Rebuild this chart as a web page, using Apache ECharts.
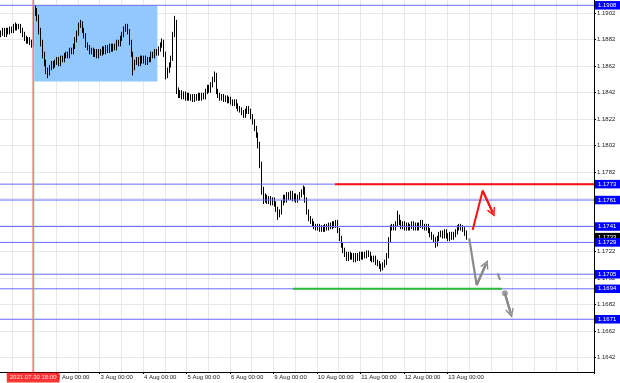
<!DOCTYPE html>
<html><head><meta charset="utf-8">
<script src="https://cdn.jsdelivr.net/npm/echarts@6/dist/echarts.min.js"></script>
<style>html,body{margin:0;padding:0;background:#fff}#c{width:620px;height:383px}</style>
</head><body><div id="c"></div>
<script>
// ---- data (EURUSD H1) ----
const nBars = 328;            // slots on the time axis (incl. empty right margin)
const firstOpen = 1.1886;
const closes = [
1.1887,1.1889,1.1886,1.1889,1.1888,1.1890,1.1889,1.1892,1.1891,1.1892,
1.1892,1.1889,1.1886,1.1883,1.1881,1.1882,1.1880,1.1878,1.1903,1.1905,
1.1899,1.1889,1.1880,1.1871,1.1865,1.1859,1.1858,1.1861,1.1864,1.1863,
1.1865,1.1867,1.1864,1.1868,1.1867,1.1870,1.1871,1.1870,1.1874,1.1873,
1.1877,1.1882,1.1887,1.1893,1.1895,1.1889,1.1885,1.1878,1.1876,1.1873,
1.1874,1.1871,1.1873,1.1870,1.1873,1.1872,1.1875,1.1873,1.1876,1.1874,
1.1877,1.1875,1.1877,1.1876,1.1880,1.1879,1.1883,1.1886,1.1890,1.1892,
1.1888,1.1880,1.1871,1.1861,1.1865,1.1867,1.1864,1.1868,1.1866,1.1868,
1.1865,1.1867,1.1867,1.1871,1.1870,1.1873,1.1872,1.1875,1.1878,1.1880,
1.1871,1.1855,1.1859,1.1863,1.1868,1.1886,1.1895,1.1844,1.1840,1.1842,
1.1839,1.1841,1.1838,1.1840,1.1838,1.1839,1.1837,1.1839,1.1838,1.1840,
1.1838,1.1840,1.1839,1.1843,1.1846,1.1844,1.1848,1.1852,1.1855,1.1843,
1.1840,1.1838,1.1839,1.1837,1.1838,1.1836,1.1837,1.1835,1.1834,1.1835,
1.1832,1.1830,1.1829,1.1827,1.1825,1.1828,1.1830,1.1828,1.1824,1.1820,
1.1815,1.1810,1.1803,1.1788,1.1769,1.1761,1.1763,1.1760,1.1762,1.1759,
1.1761,1.1758,1.1754,1.1750,1.1752,1.1759,1.1763,1.1761,1.1765,1.1763,
1.1766,1.1762,1.1764,1.1761,1.1763,1.1765,1.1767,1.1769,1.1761,1.1752,
1.1747,1.1745,1.1743,1.1741,1.1740,1.1741,1.1739,1.1740,1.1739,1.1741,
1.1740,1.1742,1.1741,1.1743,1.1742,1.1744,1.1738,1.1732,1.1727,1.1723,
1.1720,1.1717,1.1720,1.1718,1.1719,1.1716,1.1719,1.1717,1.1720,1.1718,
1.1720,1.1719,1.1721,1.1720,1.1717,1.1716,1.1717,1.1714,1.1713,1.1711,
1.1710,1.1712,1.1714,1.1719,1.1731,1.1740,1.1741,1.1740,1.1743,1.1748,
1.1744,1.1741,1.1743,1.1740,1.1742,1.1740,1.1741,1.1743,1.1740,1.1742,
1.1740,1.1742,1.1744,1.1741,1.1740,1.1741,1.1738,1.1735,1.1733,1.1731,
1.1728,1.1732,1.1735,1.1736,1.1734,1.1737,1.1734,1.1732,1.1735,1.1733,
1.1735,1.1737,1.1740,1.1741,1.1740,1.1739,1.1736,1.1733];
const highs = [
1.1889,1.1891,1.1891,1.1891,1.1891,1.1892,1.1892,1.1894,1.1895,1.1894,
1.1894,1.1894,1.1891,1.1888,1.1885,1.1884,1.1884,1.1882,1.1908,1.1908,
1.1906,1.1901,1.1891,1.1882,1.1873,1.1867,1.1861,1.1863,1.1866,1.1866,
1.1867,1.1869,1.1869,1.1870,1.1870,1.1872,1.1873,1.1873,1.1876,1.1876,
1.1879,1.1884,1.1889,1.1895,1.1897,1.1896,1.1891,1.1887,1.1880,1.1878,
1.1876,1.1876,1.1875,1.1875,1.1875,1.1875,1.1877,1.1877,1.1878,1.1878,
1.1879,1.1879,1.1879,1.1879,1.1882,1.1882,1.1885,1.1888,1.1892,1.1894,
1.1894,1.1890,1.1882,1.1873,1.1867,1.1869,1.1869,1.1870,1.1870,1.1870,
1.1870,1.1869,1.1869,1.1873,1.1873,1.1875,1.1875,1.1877,1.1880,1.1883,
1.1882,1.1873,1.1861,1.1865,1.1870,1.1888,1.1900,1.1897,1.1846,1.1844,
1.1844,1.1843,1.1843,1.1842,1.1842,1.1841,1.1841,1.1841,1.1841,1.1842,
1.1842,1.1842,1.1842,1.1845,1.1848,1.1848,1.1850,1.1854,1.1858,1.1857,
1.1845,1.1842,1.1841,1.1841,1.1840,1.1840,1.1839,1.1839,1.1837,1.1837,
1.1837,1.1834,1.1832,1.1831,1.1829,1.1830,1.1832,1.1832,1.1830,1.1826,
1.1822,1.1817,1.1812,1.1805,1.1790,1.1771,1.1766,1.1765,1.1764,1.1764,
1.1763,1.1763,1.1760,1.1756,1.1754,1.1761,1.1765,1.1765,1.1767,1.1767,
1.1768,1.1768,1.1766,1.1766,1.1765,1.1767,1.1769,1.1772,1.1771,1.1763,
1.1754,1.1749,1.1747,1.1745,1.1743,1.1743,1.1743,1.1742,1.1742,1.1743,
1.1743,1.1744,1.1744,1.1745,1.1745,1.1746,1.1746,1.1740,1.1734,1.1729,
1.1725,1.1722,1.1722,1.1722,1.1721,1.1721,1.1721,1.1721,1.1722,1.1722,
1.1722,1.1722,1.1723,1.1723,1.1722,1.1719,1.1719,1.1719,1.1716,1.1715,
1.1713,1.1714,1.1716,1.1721,1.1733,1.1742,1.1743,1.1743,1.1745,1.1753,
1.1750,1.1746,1.1745,1.1745,1.1744,1.1744,1.1743,1.1745,1.1745,1.1744,
1.1744,1.1744,1.1746,1.1746,1.1743,1.1743,1.1743,1.1740,1.1737,1.1735,
1.1733,1.1734,1.1737,1.1738,1.1738,1.1739,1.1739,1.1736,1.1737,1.1737,
1.1737,1.1739,1.1742,1.1743,1.1743,1.1742,1.1741,1.1738];
const lows = [
1.1884,1.1885,1.1884,1.1884,1.1886,1.1886,1.1887,1.1887,1.1889,1.1889,
1.1890,1.1887,1.1884,1.1881,1.1879,1.1879,1.1878,1.1876,1.1877,1.1900,
1.1896,1.1886,1.1877,1.1868,1.1862,1.1856,1.1853,1.1855,1.1859,1.1860,
1.1861,1.1863,1.1862,1.1862,1.1865,1.1865,1.1868,1.1868,1.1868,1.1871,
1.1871,1.1875,1.1880,1.1885,1.1891,1.1887,1.1883,1.1876,1.1874,1.1871,
1.1871,1.1869,1.1869,1.1868,1.1868,1.1870,1.1870,1.1871,1.1871,1.1872,
1.1872,1.1873,1.1873,1.1874,1.1874,1.1877,1.1877,1.1881,1.1884,1.1888,
1.1886,1.1878,1.1869,1.1855,1.1859,1.1863,1.1862,1.1862,1.1864,1.1864,
1.1863,1.1863,1.1865,1.1865,1.1868,1.1868,1.1870,1.1870,1.1873,1.1876,
1.1869,1.1852,1.1853,1.1857,1.1861,1.1866,1.1884,1.1841,1.1838,1.1838,
1.1837,1.1837,1.1836,1.1836,1.1836,1.1836,1.1835,1.1835,1.1836,1.1836,
1.1836,1.1836,1.1837,1.1837,1.1841,1.1842,1.1842,1.1846,1.1850,1.1841,
1.1838,1.1836,1.1836,1.1835,1.1835,1.1834,1.1834,1.1833,1.1832,1.1832,
1.1830,1.1828,1.1827,1.1825,1.1823,1.1823,1.1826,1.1826,1.1822,1.1818,
1.1813,1.1808,1.1800,1.1785,1.1765,1.1758,1.1759,1.1758,1.1758,1.1757,
1.1757,1.1756,1.1752,1.1746,1.1748,1.1750,1.1757,1.1759,1.1759,1.1761,
1.1761,1.1760,1.1760,1.1759,1.1759,1.1761,1.1763,1.1765,1.1759,1.1750,
1.1745,1.1743,1.1741,1.1739,1.1738,1.1738,1.1737,1.1737,1.1737,1.1737,
1.1738,1.1738,1.1739,1.1739,1.1740,1.1740,1.1736,1.1730,1.1725,1.1721,
1.1718,1.1715,1.1715,1.1716,1.1716,1.1714,1.1714,1.1715,1.1715,1.1716,
1.1716,1.1717,1.1717,1.1718,1.1715,1.1714,1.1714,1.1712,1.1711,1.1709,
1.1707,1.1708,1.1710,1.1712,1.1717,1.1729,1.1738,1.1738,1.1738,1.1741,
1.1742,1.1739,1.1739,1.1738,1.1738,1.1738,1.1738,1.1739,1.1738,1.1738,
1.1738,1.1738,1.1740,1.1739,1.1738,1.1738,1.1736,1.1733,1.1731,1.1729,
1.1725,1.1726,1.1730,1.1733,1.1732,1.1732,1.1732,1.1730,1.1730,1.1731,
1.1731,1.1733,1.1735,1.1738,1.1738,1.1737,1.1734,1.1731];

const yMin = 1.16312, yMax = 1.19120;
const yTicks = [1.1642,1.1662,1.1682,1.1702,1.1722,1.1742,1.1762,1.1782,1.1802,1.1822,1.1842,1.1862,1.1882,1.1902];
const xTickIdx = [31,55,79,103,127,151,175,199,223,247];
const xTickLabels = ['2 Aug 00:00','3 Aug 00:00','4 Aug 00:00','5 Aug 00:00','6 Aug 00:00','9 Aug 00:00','10 Aug 00:00','11 Aug 00:00','12 Aug 00:00','13 Aug 00:00'];
const markerIdx = 17.8, markerLabel = '2021.07.30 18:00';
const blueLevels = [1.1908,1.1773,1.1761,1.1741,1.1729,1.1705,1.1694,1.1671];
const currentPrice = 1.1733;
const redSegment = [[184.5,1.1773],[327.5,1.1773]];
const greenSegment = [[161.3,1.1694],[276.7,1.1694]];
const boxCorners = [[18.4,1.1908],[86.4,1.18504]];
const redArrow = [[260.5,1.17384],[266.0,1.17681],[271.6,1.17515]];
const grayArrow = [[258.6,1.17321],[262.7,1.16969],[267.9,1.17127]];
const grayTick = [[274.3,1.17057],[275.6,1.17007]];
const grayDot = [[278.3,1.16906]];
const grayArrow2 = [[278.3,1.16906],[281.5,1.16755]];

// ---- build ----
const categories = Array.from({length: nBars}, (_, i) => String(i));
const candles = closes.map((c, i) => [i === 0 ? firstOpen : closes[i - 1], c, lows[i], highs[i]]);
const FONT = 'Liberation Sans';
const chevron = 'path://M0,10 L5,0 L10,10 L8.3,10 L5,3.6 L1.7,10 Z';
const RED = '#ff1010', GRAY = '#8a8a8a', BLUE = '#6a6aff';
const xLo = -0.5, xHi = nBars - 0.5;

function arrowSeries(name, pts, color, width) {
  const n = pts.length;
  return {
    name, type: 'line', xAxisIndex: 1, yAxisIndex: 0, data: pts, symbol: 'none', z: 7,
    lineStyle: {color, width}, itemStyle: {color}, silent: true,
    markLine: {
      silent: true, z: 7, symbol: ['none', chevron], symbolSize: [9, 9], animation: false,
      lineStyle: {color, width, type: 'solid'}, itemStyle: {color}, label: {show: false},
      data: [[{coord: pts[n - 2]}, {coord: pts[n - 1]}]]
    }
  };
}

function levelSeries(name, v, color, opacity, bg, z) {
  return {
    name, type: 'line', xAxisIndex: 1, data: [[xLo, v], [xHi, v]], symbol: 'none', z, silent: true,
    lineStyle: {color, width: 1, opacity}, itemStyle: {color},
    endLabel: {show: true, distance: 1, formatter: v.toFixed(4), backgroundColor: bg, color: '#ffffff',
               fontSize: 6, fontFamily: FONT, padding: [1.5, 4, 1, 3]}
  };
}

const levelSeriesList = [levelSeries('current', currentPrice, '#000000', 0, '#000000', 3)];
blueLevels.forEach((v, k) => levelSeriesList.push(levelSeries('level ' + k, v, BLUE, 1, '#0000ff', 4)));

const chart = echarts.init(document.getElementById('c'), null, {renderer: 'canvas'});
chart.setOption({
  animation: false,
  backgroundColor: '#ffffff',
  grid: {left: 0, right: 26, top: 0, bottom: 11, containLabel: false},
  xAxis: [{
    type: 'category', data: categories, boundaryGap: true,
    axisLine: {show: true, onZero: false, lineStyle: {color: '#000', width: 1}},
    axisTick: {show: true, length: 2, interval: (i) => xTickIdx.includes(i), lineStyle: {color: '#000'}},
    axisLabel: {show: true, interval: (i) => xTickIdx.includes(i), align: 'left', margin: 2,
                fontSize: 6, fontFamily: FONT, color: '#222',
                formatter: (v, i) => { const k = xTickIdx.indexOf(i); return k >= 0 ? xTickLabels[k] : ''; }},
    splitLine: {show: true, interval: (i) => i % 12 === 7, lineStyle: {color: '#e8e8e8', width: 1}}
  }, {
    type: 'value', min: xLo, max: xHi, show: false,
    axisLine: {show: false, onZero: false}, splitLine: {show: false}
  }],
  yAxis: [{
    type: 'value', position: 'right', min: yMin, max: yMax, scale: true,
    axisLine: {show: true, onZero: false, lineStyle: {color: '#000', width: 1}},
    axisTick: {show: true, length: 2, customValues: yTicks, lineStyle: {color: '#000'}},
    axisLabel: {show: true, customValues: yTicks, margin: 3, fontSize: 6, fontFamily: FONT, color: '#222',
                formatter: v => v.toFixed(4)},
    splitLine: {show: true, lineStyle: {color: '#e8e8e8', width: 1}}
  }],
  series: [
    {
      name: 'box', type: 'line', xAxisIndex: 1, data: [], z: 1, silent: true,
      markArea: {silent: true, z: 1, itemStyle: {color: '#93c8ff', opacity: 1, borderWidth: 0},
                 data: [[{coord: boxCorners[0]}, {coord: boxCorners[1]}]]}
    },
    {
      name: 'price', type: 'candlestick', xAxisIndex: 0, data: candles, barWidth: 1, z: 2, silent: true,
      itemStyle: {color: '#000', color0: '#000', borderColor: '#000', borderColor0: '#000', borderWidth: 1}
    },
    ...levelSeriesList,
    {
      name: 'marker line', type: 'line', xAxisIndex: 1, symbol: 'none', z: 9, silent: true,
      lineStyle: {color: '#ff6a6a', width: 1.4}, itemStyle: {color: '#ff6a6a'},
      data: [[markerIdx, yMin], [markerIdx, yMax]]
    },
    {
      name: 'marker tag', type: 'scatter', xAxisIndex: 1, symbol: 'rect', symbolSize: [1, 1], z: 9, silent: true,
      itemStyle: {color: '#ff6a6a'},
      label: {show: true, position: 'bottom', distance: 0, formatter: markerLabel,
              backgroundColor: '#ff0000', color: '#ffffff', fontSize: 6, fontFamily: FONT, padding: [2, 3, 2, 3]},
      data: [[markerIdx, yMin]]
    },
    {name: 'red level', type: 'line', xAxisIndex: 1, data: redSegment, symbol: 'none', z: 6, silent: true,
     lineStyle: {color: RED, width: 2}, itemStyle: {color: RED}},
    {name: 'green level', type: 'line', xAxisIndex: 1, data: greenSegment, symbol: 'none', z: 6, silent: true,
     lineStyle: {color: '#2dbb3a', width: 2}, itemStyle: {color: '#2dbb3a'}},
    arrowSeries('red arrow', redArrow, RED, 2),
    arrowSeries('gray arrow', grayArrow, GRAY, 2.2),
    {name: 'gray tick', type: 'line', xAxisIndex: 1, data: grayTick, symbol: 'none', z: 7, silent: true,
     lineStyle: {color: GRAY, width: 2}, itemStyle: {color: GRAY}},
    {name: 'gray dot', type: 'scatter', xAxisIndex: 1, data: grayDot, symbolSize: 6, z: 7, silent: true,
     itemStyle: {color: GRAY}},
    arrowSeries('gray arrow 2', grayArrow2, GRAY, 2.2)
  ]
});
</script>
</body></html>
